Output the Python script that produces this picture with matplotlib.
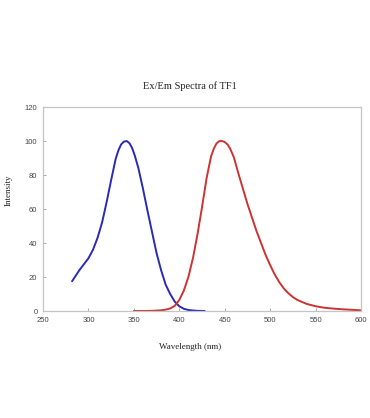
import matplotlib
matplotlib.use("Agg")
import matplotlib.pyplot as plt

ex_wl = [282, 290, 300, 305, 310, 315, 320, 325, 330, 333, 336, 339, 342, 345,
         348, 351, 355, 360, 365, 370, 375, 380, 385, 390, 395, 400, 405, 410,
         415, 420, 428]
ex_int = [17.5, 24, 31, 36, 43, 52, 64, 77, 89.5, 94.5, 98, 99.6, 100, 98.8,
          96, 91.5, 84, 72, 59, 46.5, 34, 24, 15.5, 10, 5.5, 2.8, 1.3, 0.6,
          0.3, 0.1, 0]

em_wl = [350, 360, 370, 380, 385, 390, 395, 400, 405, 410, 415, 420, 425, 430,
         435, 438, 441, 444, 447, 450, 453, 456, 460, 465, 470, 475, 480, 485,
         490, 495, 500, 505, 510, 515, 520, 525, 530, 540, 550, 560, 570, 580,
         590, 600]
em_int = [0, 0, 0.1, 0.4, 0.8, 1.5, 3, 6.5, 12, 20, 31, 45, 61, 78,
          91, 95.5, 98.6, 99.9, 100, 99.4, 98, 95.5, 90.5, 81, 72, 63, 55, 47,
          40, 33, 27, 21.5, 17, 13.3, 10.5, 8.2, 6.5, 4.2, 2.8, 1.9, 1.4, 1.0,
          0.7, 0.4]

title = "Ex/Em Spectra of TF1"
xlabel = "Wavelength (nm)"
ylabel = "Intensity"
xticks = [250, 300, 350, 400, 450, 500, 550, 600]
yticks = [0, 20, 40, 60, 80, 100, 120]

W, H = 370, 418
fig = plt.figure(figsize=(W / 100, H / 100), dpi=100)
ax = fig.add_axes([43 / W, 1 - 311 / H, (361 - 43) / W, (311 - 107) / H])

ax.plot(ex_wl, ex_int, color="#2a2ab4", lw=1.4, solid_capstyle="round",
        solid_joinstyle="round")
ax.plot(em_wl, em_int, color="#cc3333", lw=1.4, solid_capstyle="round",
        solid_joinstyle="round")

ax.set_xlim(250, 600)
ax.set_ylim(0, 120)
ax.set_xticks(xticks)
ax.set_yticks(yticks)
ax.tick_params(direction="in", length=2, width=0.6, color="#999999",
               labelsize=5.5, labelcolor="#444444", pad=4)
for lbl in ax.get_xticklabels() + ax.get_yticklabels():
    lbl.set_family("Liberation Sans")
for s in ax.spines.values():
    s.set_color("#c4c4c4")
    s.set_linewidth(0.9)

serif = "Liberation Serif"
fig.text(190 / W, 1 - 86 / H, title, ha="center", va="center",
         family=serif, fontsize=7.5, color="#222222")
fig.text(190 / W, 1 - 347 / H, xlabel, ha="center", va="center",
         family=serif, fontsize=6.5, color="#222222")
fig.text(9 / W, 1 - 190 / H, ylabel, ha="center", va="center", rotation=90,
         family=serif, fontsize=6.5, color="#222222")

fig.savefig("out.png", dpi=100)
